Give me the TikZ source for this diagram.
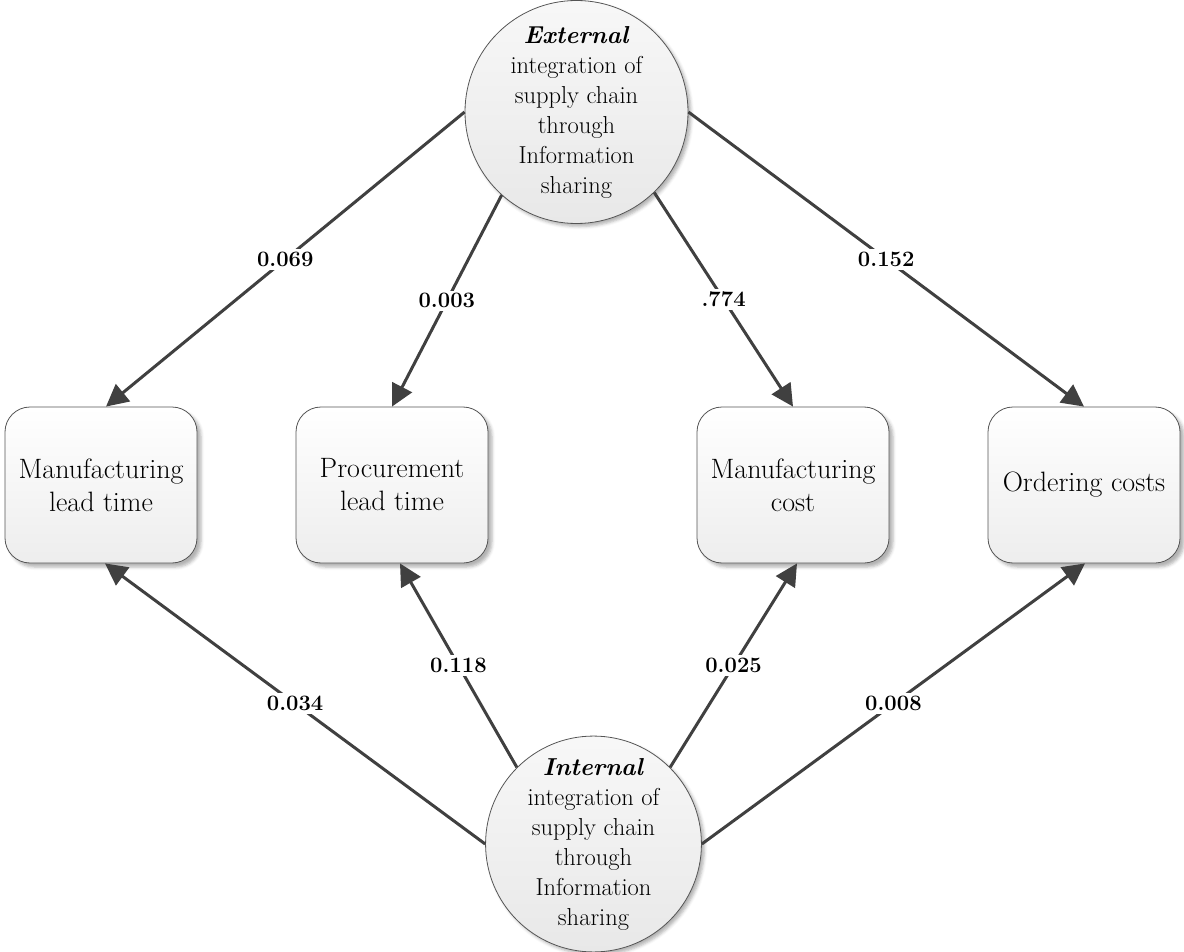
\documentclass[tikz,border=0pt]{standalone}
\usepackage{fontspec}
\usetikzlibrary{arrows.meta,shadows.blur}
\definecolor{linegray}{HTML}{404040}
\definecolor{edgegray}{HTML}{555555}
\tikzset{
  factor/.style={circle, draw=edgegray, line width=0.8pt, align=center,
    top color=black!3, bottom color=black!9,
    blur shadow={shadow xshift=3pt, shadow yshift=-3pt, shadow blur radius=3pt, shadow opacity=30},
    font=\fontsize{24.5}{30}\selectfont, inner sep=0pt},
  outcome/.style={rounded corners=25pt, draw=edgegray, line width=0.8pt, align=center,
    minimum width=192pt, minimum height=156pt,
    top color=white, bottom color=black!7,
    blur shadow={shadow xshift=4pt, shadow yshift=-4pt, shadow blur radius=3pt, shadow opacity=30},
    font=\fontsize{28}{33}\selectfont, inner sep=2pt},
  effect/.style={draw=linegray, line width=3pt,
    -{Triangle[length=22pt,width=22pt]}},
  coef/.style={fill=white, inner sep=3pt, font=\fontsize{22}{22}\selectfont\bfseries}
}
\begin{document}
\begin{tikzpicture}[x=1pt,y=-1pt]
\useasboundingbox (0,0) rectangle (1184,952);

% latent factors
\node[factor, minimum size=223pt] (ext) at (576.5,112)
  {\textbf{\textit{External}}\\integration of\\supply chain\\through\\Information\\sharing};
\node[factor, minimum size=213pt] (int) at (593.5,844)
  {\textbf{\textit{Internal}}\\integration of\\supply chain\\through\\Information\\sharing};

% performance outcomes
\node[outcome] (mlt) at (101,485) {Manufacturing\\lead time};
\node[outcome] (plt) at (392,485) {Procurement\\lead time};
\node[outcome] (mc)  at (793,485) {Manufacturing\\cost};
\node[outcome] (oc)  at (1084,485) {Ordering costs};

% paths from the external factor
\draw[effect] (ext.180) -- ([xshift=5pt]mlt.north) node[coef,pos=0.5] {0.069};
\draw[effect] (ext.-132) -- (plt.north) node[coef,pos=0.5] {0.003};
\draw[effect] (ext.-46) -- (mc.north) node[coef,pos=0.5] {.774};
\draw[effect] (ext.0) -- (oc.north) node[coef,pos=0.5] {0.152};

% paths from the internal factor
\draw[effect] (int.180) -- ([xshift=4pt]mlt.south) node[coef,pos=0.5] {0.034};
\draw[effect] (int.135) -- ([xshift=8pt]plt.south) node[coef,pos=0.5] {0.118};
\draw[effect] (int.45) -- ([xshift=4pt]mc.south) node[coef,pos=0.5] {0.025};
\draw[effect] (int.0) -- ([xshift=1pt]oc.south) node[coef,pos=0.5] {0.008};
\end{tikzpicture}
\end{document}
